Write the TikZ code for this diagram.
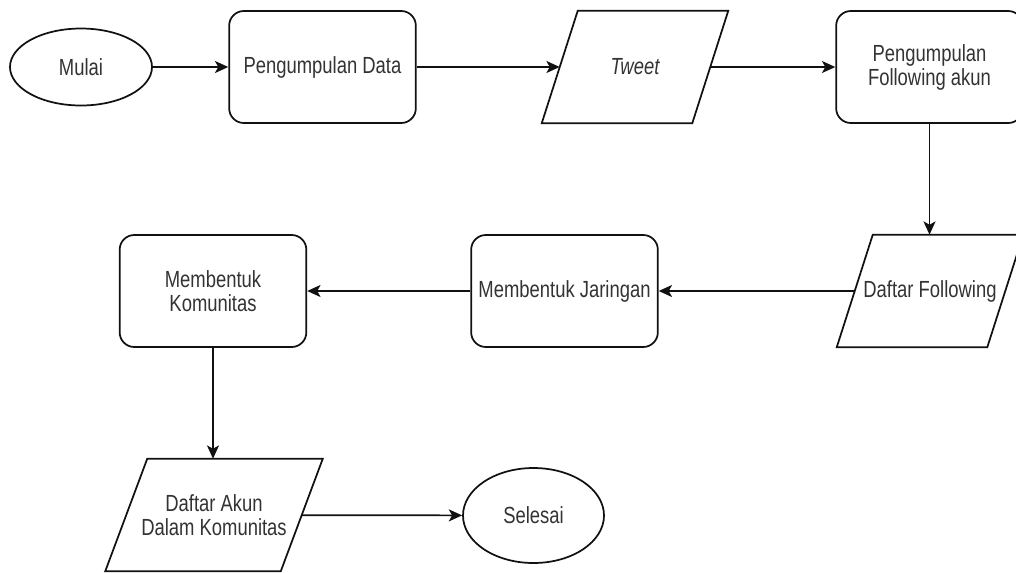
\documentclass[tikz,border=0pt]{standalone}
\usepackage{fontspec}
\setmainfont[FakeStretch=0.79]{Liberation Sans}
\usepackage{tikz}
\usetikzlibrary{arrows.meta,positioning,shapes.geometric}
\definecolor{fcline}{HTML}{111111}
\definecolor{fctext}{HTML}{333333}

\begin{document}
\begin{tikzpicture}[
  x=0.75pt, y=-0.75pt,
  every node/.style={font=\fontsize{17.5}{18}\selectfont, text=fctext, align=center},
  box/.style={draw=fcline, line width=1.3pt, rounded corners=11pt, minimum width=140pt, minimum height=84pt, inner sep=0pt},
  io/.style={minimum width=112.5pt, minimum height=84pt, inner sep=0pt},
  ioline/.style={draw=fcline, line width=1.3pt, line join=miter},
  terminal/.style={draw=fcline, line width=1.3pt, ellipse, inner sep=0pt},
  arrow/.style={-{Stealth[length=10pt, width=9pt, inset=2.5pt]}, line width=1.3pt, draw=fcline}
]
\useasboundingbox (0,0) rectangle (1016,572);
% baris atas
\node[terminal, minimum width=106.5pt, minimum height=57.75pt] (mulai) at (81,67) {Mulai};
\node[box] (data) at (322.5,67) {Pengumpulan Data};
\node[io] (tweet) at (635,67) {\itshape Tweet};
\node[box] (follow) at (929.5,67) {Pengumpulan\\Following akun};
% baris tengah
\node[io] (daftarf) at (930,291) {Daftar Following};
\node[box] (jaringan) at (564.5,291) {Membentuk Jaringan};
\node[box] (komunitas) at (213,291) {Membentuk\\Komunitas};
% baris bawah
\node[io, minimum width=131.25pt] (akun) at (214,515) {Daftar Akun\\Dalam Komunitas};
\node[terminal, minimum width=105.75pt, minimum height=71.25pt] (selesai) at (533.5,515.5) {Selesai};
% jajaran genjang untuk data
\foreach \n/\s in {tweet/13.5pt, daftarf/13.5pt, akun/15.75pt}
  \draw[ioline] ([xshift=-\s]\n.south west) -- ([xshift=\s]\n.north west)
    -- ([xshift=\s]\n.north east) -- ([xshift=-\s]\n.south east) -- cycle;
\draw[arrow] (mulai) -- (data);
\draw[arrow] (data) -- (tweet);
\draw[arrow] (tweet) -- (follow);
\draw[arrow] (follow.south) -- (follow.south |- daftarf.north);
\draw[arrow] (daftarf) -- (jaringan);
\draw[arrow] (jaringan) -- (komunitas);
\draw[arrow] (komunitas.south) -- (komunitas.south |- akun.north);
\draw[arrow] (akun) -- (selesai);
\end{tikzpicture}
\end{document}
